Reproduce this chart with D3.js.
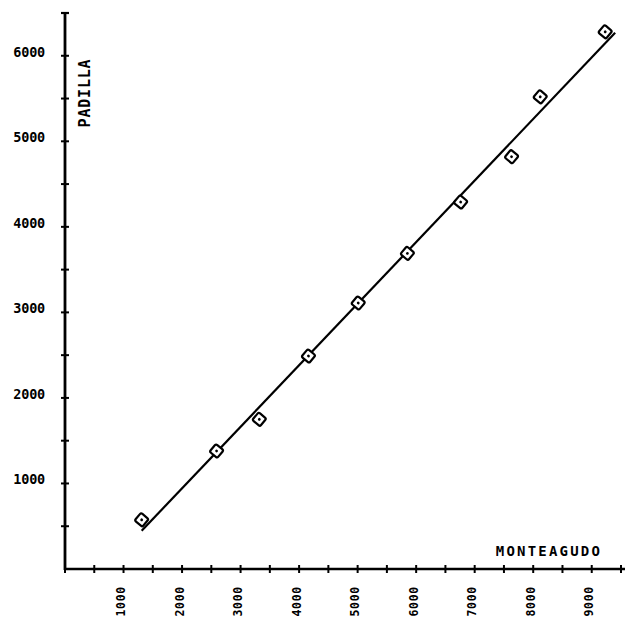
<!DOCTYPE html>
<html>
<head>
<meta charset="utf-8">
<script src="https://cdn.jsdelivr.net/npm/d3@7"></script>
<style>
  html, body { margin: 0; padding: 0; background: #fff; }
  svg { display: block; }
  text { font-family: "DejaVu Sans Mono", "Liberation Mono", monospace; fill: #000; }
</style>
</head>
<body>
<svg id="chart" width="629" height="618"></svg>
<script>
// Observed pairs: Monteagudo (x) vs Padilla (y)
const monteagudo = [1310, 2590, 3320, 4160, 5010, 5850, 6760, 7630, 8120, 9230];
const padilla    = [575, 1380, 1750, 2490, 3110, 3690, 4290, 4820, 5520, 6280];

// Fitted line end points
const fitX = [1310, 9400];
const fitY = [447, 6268];

// Axis ticks and labels
const xTicks = d3.range(0, 9501, 500);
const xLabels = [1000, 2000, 3000, 4000, 5000, 6000, 7000, 8000, 9000];
const yTicks = d3.range(500, 6001, 500);
const yLabels = [1000, 2000, 3000, 4000, 5000, 6000];

const xTitle = "MONTEAGUDO";
const yTitle = "PADILLA";

const svg = d3.select("#chart");

const x = d3.scaleLinear().domain([0, 9500]).range([65, 621]);
const y = d3.scaleLinear().domain([0, 6500]).range([569, 13]);

// Axes
svg.append("line")
  .attr("x1", x(0)).attr("x2", x(9500) + 4)
  .attr("y1", y(0)).attr("y2", y(0))
  .attr("stroke", "#000").attr("stroke-width", 2.4);

svg.append("line")
  .attr("x1", x(0)).attr("x2", x(0))
  .attr("y1", y(0) + 1).attr("y2", y(6500))
  .attr("stroke", "#000").attr("stroke-width", 2.8);

// top cap of the vertical axis
svg.append("line")
  .attr("x1", x(0) - 4).attr("x2", x(0) + 4)
  .attr("y1", y(6500)).attr("y2", y(6500))
  .attr("stroke", "#000").attr("stroke-width", 2.2);

// x ticks cross the axis
svg.append("g").selectAll("line").data(xTicks).join("line")
  .attr("x1", d => x(d)).attr("x2", d => x(d))
  .attr("y1", y(0) - 4).attr("y2", y(0) + 4)
  .attr("stroke", "#000").attr("stroke-width", 2);

// y ticks cross the axis
svg.append("g").selectAll("line").data(yTicks).join("line")
  .attr("x1", x(0) - 4).attr("x2", x(0) + 4)
  .attr("y1", d => y(d)).attr("y2", d => y(d))
  .attr("stroke", "#000").attr("stroke-width", 2);

// y labels
svg.append("g").selectAll("text").data(yLabels).join("text")
  .attr("x", 45)
  .attr("y", d => y(d) + 1)
  .attr("text-anchor", "end")
  .attr("font-size", 13.5)
  .attr("font-weight", "bold")
  .attr("letter-spacing", -0.2)
  .text(d => d);

// x labels, rotated, reading upward
svg.append("g").selectAll("text").data(xLabels).join("text")
  .attr("transform", d => `translate(${x(d) + 1.5},586) rotate(-90)`)
  .attr("text-anchor", "end")
  .attr("font-size", 11.5)
  .attr("font-weight", "bold")
  .attr("letter-spacing", 0.7)
  .text(d => d);

// axis titles
svg.append("text")
  .attr("transform", "translate(90,93) rotate(-90)")
  .attr("text-anchor", "middle")
  .attr("font-size", 15)
  .attr("font-weight", "bold")
  .attr("letter-spacing", 0.8)
  .text(yTitle);

svg.append("text")
  .attr("x", 549).attr("y", 556)
  .attr("text-anchor", "middle")
  .attr("font-size", 14)
  .attr("font-weight", "bold")
  .attr("letter-spacing", 2.2)
  .text(xTitle);

// fitted line
const fit = fitX.map((v, i) => [v, fitY[i]]);
svg.append("path")
  .datum(fit)
  .attr("d", d3.line().x(d => x(d[0])).y(d => y(d[1])))
  .attr("fill", "none")
  .attr("stroke", "#000")
  .attr("stroke-width", 2.2);

// markers: tilted squares with a centre dot
const pts = monteagudo.map((v, i) => [v, padilla[i]]);
const mk = svg.append("g").selectAll("g").data(pts).join("g")
  .attr("transform", d => `translate(${x(d[0])},${y(d[1])}) rotate(40)`);
mk.append("rect")
  .attr("x", -5).attr("y", -5).attr("width", 10).attr("height", 10)
  .attr("rx", 1.8)
  .attr("fill", "#fff")
  .attr("stroke", "#000").attr("stroke-width", 2.2);
mk.append("circle")
  .attr("r", 1.4).attr("fill", "#000");
</script>
</body>
</html>
